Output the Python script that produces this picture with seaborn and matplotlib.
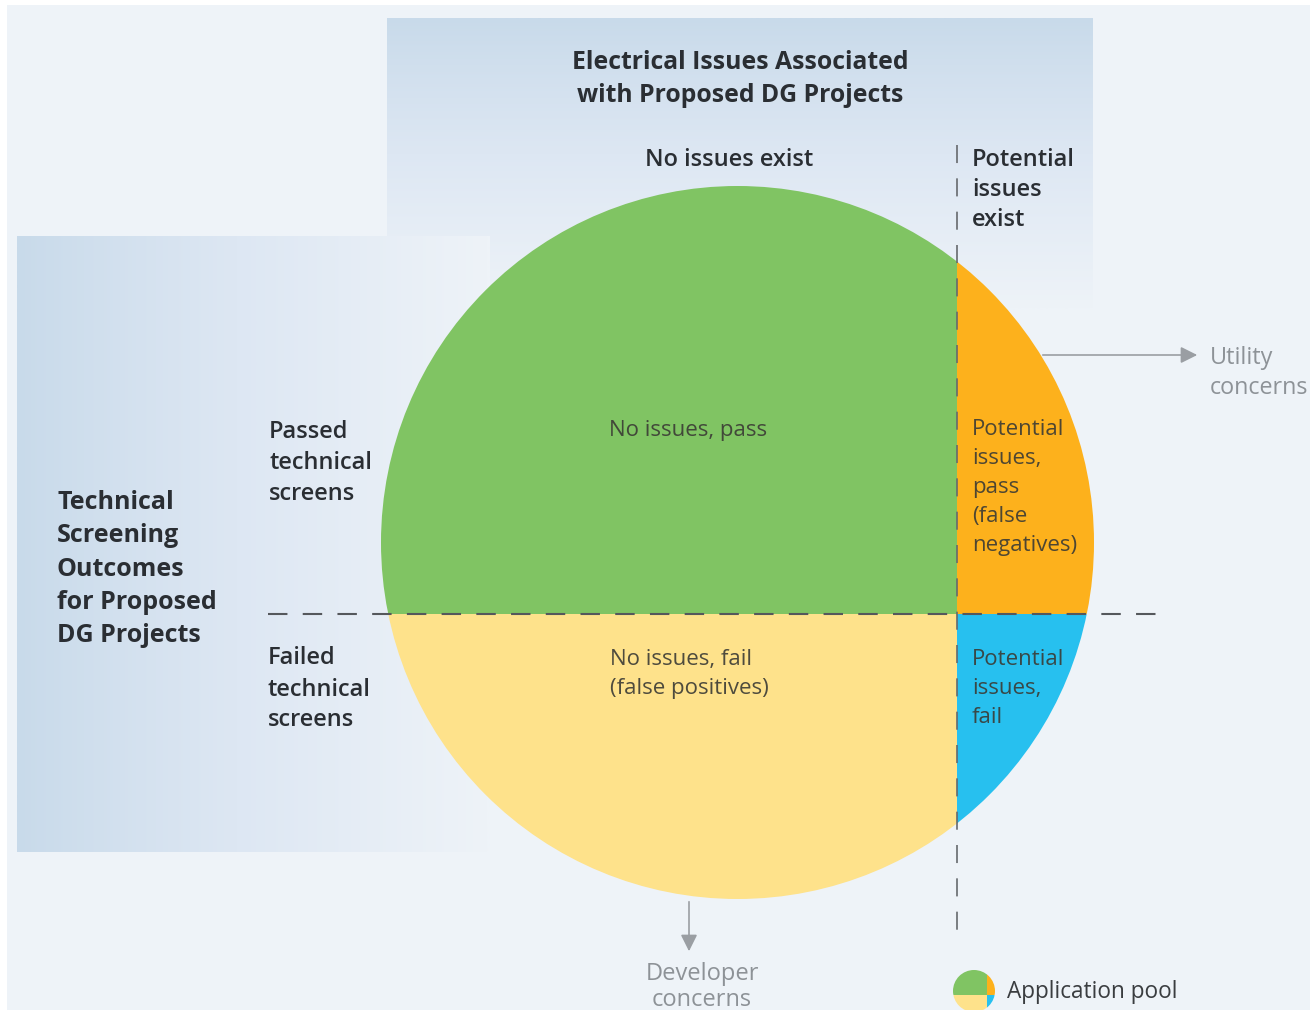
import numpy as np
import matplotlib
matplotlib.use("Agg")
import matplotlib.pyplot as plt
from matplotlib.patches import Circle, Rectangle, FancyArrowPatch
from matplotlib.colors import LinearSegmentedColormap
import seaborn as sns

sns.set_theme(style="white")
plt.rcParams["font.family"] = ["Open Sans", "DejaVu Sans"]
plt.rcParams["lines.scale_dashes"] = False

# Shares of the application pool
no_issue_share = 0.808   # share of applications with no electrical issues
pass_share = 0.600       # share of applications passing technical screens

quadrant_names = ["No issues, pass", "Potential issues, pass",
                  "No issues, fail", "Potential issues, fail"]
quadrant_colors = ["#80c463", "#fdb11c", "#fee28b", "#27c0ef"]

quadrant_labels = [
    ["No issues, pass"],
    ["Potential", "issues,", "pass", "(false", "negatives)"],
    ["No issues, fail", "(false positives)"],
    ["Potential", "issues,", "fail"],
]
column_headers = [["No issues exist"], ["Potential", "issues", "exist"]]
row_headers = [["Passed", "technical", "screens"], ["Failed", "technical", "screens"]]
top_title = ["Electrical Issues Associated", "with Proposed DG Projects"]
side_title = ["Technical", "Screening", "Outcomes", "for Proposed", "DG Projects"]
utility_label = ["Utility", "concerns"]
developer_label = ["Developer", "concerns"]
legend_label = "Application pool"

W, H = 1310, 1010
BG = "#eef3f8"
DARK = "#2a2e33"
GREY = "#8d9297"

fig = plt.figure(figsize=(W / 100, H / 100), dpi=100)
fig.patch.set_facecolor("white")
ax = fig.add_axes([0, 0, 1, 1])
ax.set_xlim(0, W)
ax.set_ylim(H, 0)
ax.axis("off")

ax.add_patch(Rectangle((7, 5), W - 7, H - 5, facecolor=BG, edgecolor="none", zorder=0))

# Shaded header panels
panel_cmap = LinearSegmentedColormap.from_list("panel", ["#c8daea", "#dde7f3", BG])
top_grad = np.linspace(0, 1, 256).reshape(-1, 1) ** 0.9
ax.imshow(top_grad, cmap=panel_cmap, extent=(387, 1093, 310, 18), aspect="auto",
          zorder=1, interpolation="bilinear")
side_grad = np.linspace(0, 1, 256).reshape(1, -1) ** 0.9
ax.imshow(side_grad, cmap=panel_cmap, extent=(17, 490, 852, 236), aspect="auto",
          zorder=1, interpolation="bilinear")
ax.set_xlim(0, W)
ax.set_ylim(H, 0)


def draw_pool(cx, cy, r, z=3):
    """Circle split into four screening/issue quadrants."""
    clip = Circle((cx, cy), r, transform=ax.transData)
    xs = cx - r + 2 * r * no_issue_share
    ys = cy - r + 2 * r * pass_share
    boxes = [
        (cx - r, cy - r, xs - (cx - r), ys - (cy - r)),
        (xs, cy - r, cx + r - xs, ys - (cy - r)),
        (cx - r, ys, xs - (cx - r), cy + r - ys),
        (xs, ys, cx + r - xs, cy + r - ys),
    ]
    for (x0, y0, w, h), col in zip(boxes, quadrant_colors):
        rect = Rectangle((x0, y0), w, h, facecolor=col, edgecolor="none", zorder=z)
        ax.add_patch(rect)
        rect.set_clip_path(clip)
    return xs, ys


cx, cy, r = 737.5, 542.5, 356.5
split_x, split_y = draw_pool(cx, cy, r)

# Dividers
ax.plot([268, 1160], [split_y, split_y], color="#55585c", lw=1.5,
        dashes=(14, 11), zorder=5)
ax.plot([split_x, split_x], [145, 945], color="#66696d", lw=1.2,
        dashes=(13, 11), zorder=5)


def lines(x, y0, step, rows, size, color, weight="normal", ha="left", alpha=1.0):
    for i, s in enumerate(rows):
        ax.text(x, y0 + 2.5 + i * step, s, fontsize=size, color=color, fontweight=weight,
                ha=ha, va="center", alpha=alpha, zorder=6)


# Headers
lines(740, 60, 33, top_title, 17.8, DARK, weight="bold", ha="center")
lines(729, 157, 31, column_headers[0], 17, DARK, weight="semibold", ha="center")
lines(972, 157, 30.5, column_headers[1], 17, DARK, weight="semibold")
lines(269, 430, 30.5, row_headers[0], 17, DARK, weight="semibold")
lines(268, 656, 31, row_headers[1], 17, DARK, weight="semibold")
lines(57, 500, 33.3, side_title, 18, DARK, weight="bold")

# Quadrant labels
INK = "#3b3b35"
lines(688, 428, 29, quadrant_labels[0], 16, INK, ha="center", alpha=0.9)
lines(972, 427, 29, quadrant_labels[1], 16, INK, alpha=0.9)
lines(610, 657, 29, quadrant_labels[2], 16, INK, alpha=0.9)
lines(972, 657, 29, quadrant_labels[3], 16, INK, alpha=0.9)

# Concern arrows
ax.add_patch(FancyArrowPatch((1040, 355), (1200, 355), arrowstyle="-|>,head_length=10,head_width=5",
                             color="#9a9ea3", lw=1.2, mutation_scale=1, zorder=6))
lines(1210, 355, 30, utility_label, 16.8, GREY)
ax.add_patch(FancyArrowPatch((689, 899), (689, 954), arrowstyle="-|>,head_length=10,head_width=5",
                             color="#9a9ea3", lw=1.2, mutation_scale=1, zorder=6))
lines(702, 971, 27, developer_label, 17, GREY, ha="center")

# Legend
draw_pool(974, 991, 21, z=6)
ax.text(1007, 992, legend_label, fontsize=16.3, color="#3a3d40", va="center", zorder=6)

fig.savefig("out.png", dpi=100, facecolor=fig.get_facecolor())
